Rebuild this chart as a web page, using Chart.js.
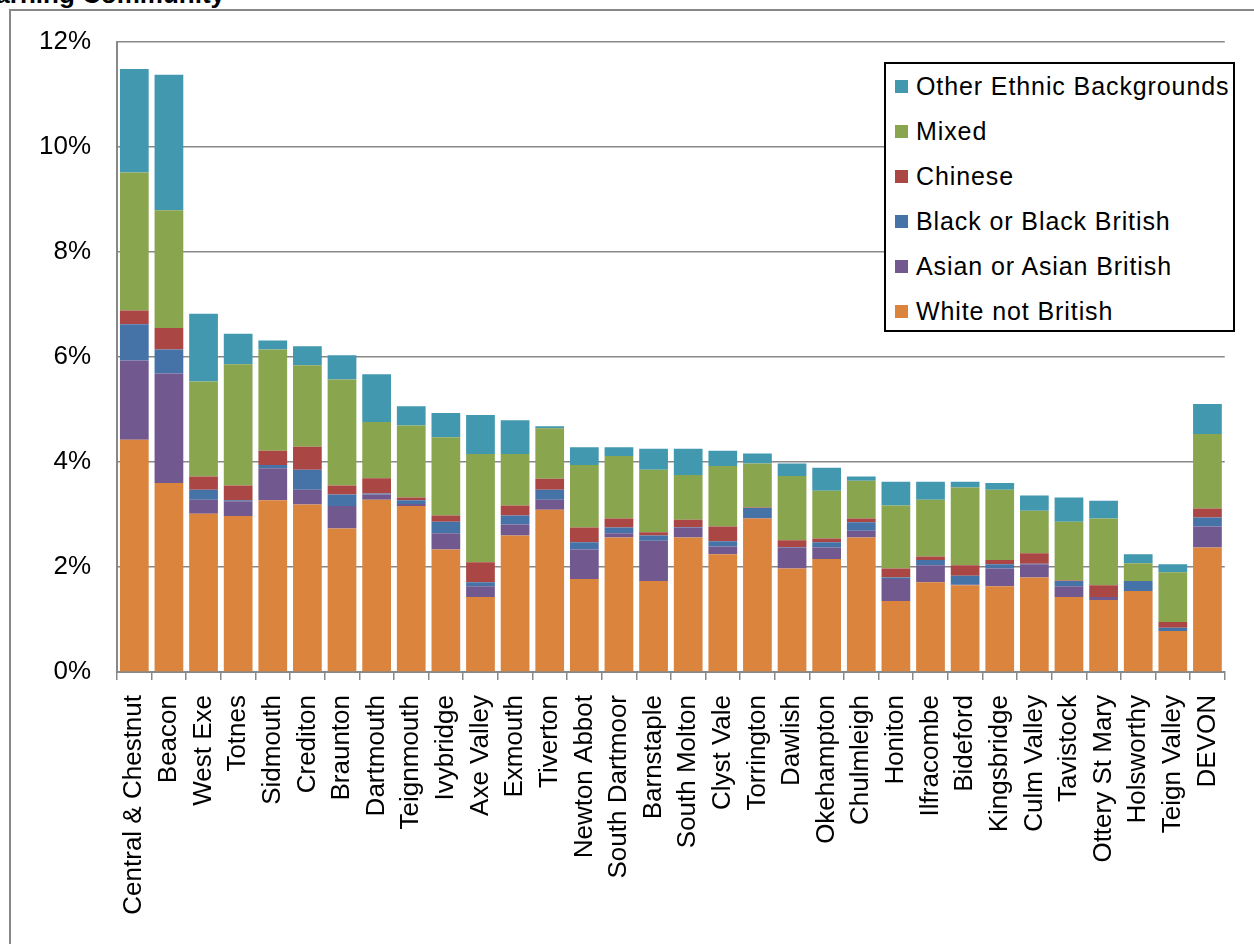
<!DOCTYPE html>
<html>
<head>
<meta charset="utf-8">
<script src="https://cdn.jsdelivr.net/npm/chart.js@4"></script>
<style>
  body { margin: 0; background: #fff; overflow: hidden; }
  #wrap { position: relative; width: 1254px; height: 944px; overflow: hidden; font-family: 'Liberation Sans', Arial, sans-serif; }
  #frame { position: absolute; left: 9px; top: 9px; width: 1400px; height: 1100px; border-left: 2px solid #888; border-top: 2px solid #888; }
  #title { position: absolute; right: 1029px; top: -19px; font-weight: bold; font-size: 26px; line-height: 26px; white-space: nowrap; }
  #chart { position: absolute; left: 0; top: 0; }
  #legend { position: absolute; left: 884px; top: 62px; width: 351px; height: 270px; box-sizing: border-box; border: 2px solid #000; background: #fff; }
  .item { height: 45px; display: flex; align-items: center; font-size: 25px; letter-spacing: 0.9px; color: #000; white-space: nowrap; }
  .item span.box { width: 13px; height: 13px; margin-left: 9px; margin-right: 8px; flex: none; }
</style>
</head>
<body>
<div id="wrap">
  <div id="frame"></div>
  <div id="title">Ethnicity by Learning Community</div>
  <canvas id="chart" width="1254" height="944"></canvas>
  <div id="legend"></div>
</div>
<script>
// learning communities, left to right
const categories = ['Central & Chestnut', 'Beacon', 'West Exe', 'Totnes', 'Sidmouth', 'Crediton',
  'Braunton', 'Dartmouth', 'Teignmouth', 'Ivybridge', 'Axe Valley', 'Exmouth', 'Tiverton',
  'Newton Abbot', 'South Dartmoor', 'Barnstaple', 'South Molton', 'Clyst Vale', 'Torrington',
  'Dawlish', 'Okehampton', 'Chulmleigh', 'Honiton', 'Ilfracombe', 'Bideford', 'Kingsbridge',
  'Culm Valley', 'Tavistock', 'Ottery St Mary', 'Holsworthy', 'Teign Valley', 'DEVON'];

// percentages
const whiteNotBritish = [4.42, 3.60, 3.01, 2.97, 3.27, 3.19, 2.73, 3.28, 3.16, 2.33, 1.43, 2.60, 3.09,
  1.77, 2.56, 1.73, 2.56, 2.24, 2.92, 1.97, 2.15, 2.56, 1.35, 1.71, 1.65, 1.63, 1.80, 1.43, 1.37, 1.54, 0.78, 2.37];
const asianBritish = [1.51, 2.08, 0.27, 0.28, 0.61, 0.28, 0.43, 0.10, 0.04, 0.31, 0.20, 0.21, 0.19,
  0.56, 0.08, 0.77, 0.19, 0.15, 0.01, 0.40, 0.22, 0.13, 0.42, 0.32, 0.01, 0.34, 0.25, 0.20, 0.06, 0.00, 0.00, 0.40];
const blackBritish = [0.69, 0.46, 0.19, 0.02, 0.06, 0.38, 0.22, 0.02, 0.07, 0.22, 0.08, 0.17, 0.19,
  0.14, 0.11, 0.10, 0.01, 0.10, 0.19, 0.01, 0.10, 0.16, 0.03, 0.10, 0.17, 0.08, 0.01, 0.10, 0.00, 0.19, 0.06, 0.17];
const chinese = [0.26, 0.41, 0.25, 0.28, 0.27, 0.44, 0.17, 0.29, 0.05, 0.12, 0.38, 0.19, 0.21,
  0.28, 0.17, 0.06, 0.14, 0.28, 0.01, 0.13, 0.07, 0.07, 0.17, 0.07, 0.20, 0.08, 0.20, 0.01, 0.22, 0.00, 0.11, 0.17];
const mixed = [2.63, 2.24, 1.81, 2.31, 1.93, 1.55, 2.02, 1.07, 1.37, 1.49, 2.06, 0.98, 0.96,
  1.19, 1.19, 1.19, 0.85, 1.15, 0.84, 1.22, 0.91, 0.72, 1.20, 1.08, 1.48, 1.34, 0.81, 1.12, 1.27, 0.34, 0.95, 1.42];
const otherEthnic = [1.97, 2.58, 1.29, 0.58, 0.17, 0.36, 0.46, 0.91, 0.37, 0.46, 0.74, 0.64, 0.04,
  0.34, 0.17, 0.40, 0.50, 0.29, 0.19, 0.24, 0.44, 0.08, 0.45, 0.34, 0.11, 0.13, 0.29, 0.46, 0.34, 0.17, 0.15, 0.57];

const seriesLabels = ['White not British', 'Asian or Asian British', 'Black or Black British',
  'Chinese', 'Mixed', 'Other Ethnic Backgrounds'];
const seriesData = [whiteNotBritish, asianBritish, blackBritish, chinese, mixed, otherEthnic];
const seriesColors = ['#DB843D', '#71588F', '#4572A7', '#AA4643', '#89A54E', '#4198AF'];

const yMax = 12;
const yStep = 2;

const font = "'Liberation Sans', Arial, sans-serif";

new Chart(document.getElementById('chart'), {
  type: 'bar',
  data: {
    labels: categories,
    datasets: seriesData.map((d, i) => ({
      label: seriesLabels[i],
      data: d,
      backgroundColor: seriesColors[i],
      borderWidth: 0,
      categoryPercentage: 1,
      barPercentage: 0.83
    }))
  },
  options: {
    responsive: false,
    animation: false,
    devicePixelRatio: 1,
    layout: { padding: { top: 37, right: 23, left: 0, bottom: 0 } },
    plugins: { legend: { display: false }, tooltip: { enabled: false } },
    scales: {
      x: {
        stacked: true,
        afterFit: s => { s.height = 272; },
        grid: { drawOnChartArea: false, offset: true, color: '#888', lineWidth: 1.5, tickLength: 8 },
        border: { color: '#888', width: 2 },
        ticks: { autoSkip: false, minRotation: 90, maxRotation: 90, padding: 15, color: '#000', font: { family: font, size: 26 } }
      },
      y: {
        stacked: true,
        min: 0,
        max: yMax,
        afterFit: s => { s.width = 117; },
        grid: { color: '#888', lineWidth: 1.5, drawTicks: false },
        border: { color: '#888', width: 2 },
        ticks: { stepSize: yStep, padding: 26, color: '#000', font: { family: font, size: 26 }, callback: v => v + '%' }
      }
    }
  }
});

// legend box, top series first
const legend = document.getElementById('legend');
for (let i = seriesLabels.length - 1; i >= 0; i--) {
  const row = document.createElement('div');
  row.className = 'item';
  row.innerHTML = '<span class="box" style="background:' + seriesColors[i] + '"></span>' + seriesLabels[i];
  legend.appendChild(row);
}
</script>
</body>
</html>
